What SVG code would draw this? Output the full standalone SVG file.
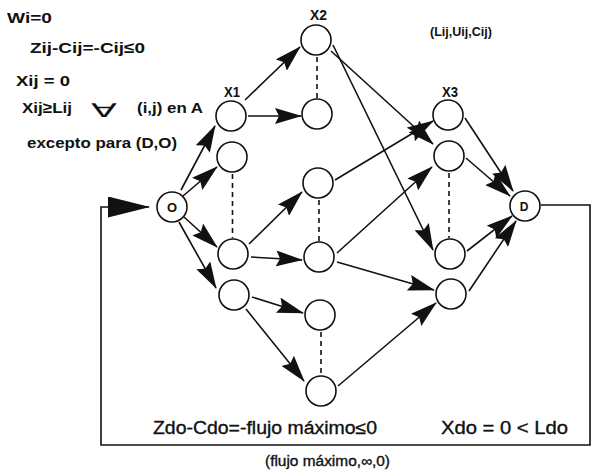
<svg xmlns="http://www.w3.org/2000/svg" width="592" height="470" viewBox="0 0 592 470">
<style>
.nd{fill:#fff;stroke:#111;stroke-width:1.6}
.e{stroke:#111;stroke-width:1.6;fill:none}
.ea{stroke:#111;stroke-width:1.6;fill:none;marker-end:url(#ah)}
.dash{stroke:#111;stroke-width:1.6;stroke-dasharray:5 4;fill:none}
.t{font-family:"Liberation Sans",Arial,Helvetica,sans-serif;fill:#111}
.b{font-weight:bold}
.s{stroke:#111;stroke-width:0.35}
</style>
<defs>
<marker id="ah" markerUnits="userSpaceOnUse" markerWidth="27" markerHeight="16" refX="26" refY="8" orient="auto" viewBox="0 0 27 16">
<path d="M0,0 L27,8 L0,16 L4,8 z" fill="#111"/>
</marker>
<marker id="big" markerUnits="userSpaceOnUse" markerWidth="42" markerHeight="21" refX="41" refY="10.5" orient="auto" viewBox="0 0 42 21">
<path d="M0,0 L42,10.5 L0,21 z" fill="#111"/>
</marker>
</defs>
<rect width="592" height="470" fill="#fff"/>

<g id="connectors">
<polyline class="e" points="541,205 590,205 590,445 101,445 101,207 149,207" marker-end="url(#big)"/>
<line class="ea" x1="181" y1="190" x2="215" y2="126"/>
<line class="ea" x1="183" y1="196" x2="217" y2="167"/>
<line class="ea" x1="184" y1="217" x2="217" y2="247"/>
<line class="ea" x1="179" y1="222" x2="216" y2="288"/>
<line class="ea" x1="245" y1="100" x2="300" y2="47"/>
<line class="ea" x1="248" y1="116" x2="301" y2="116"/>
<line class="ea" x1="249" y1="244" x2="302" y2="192"/>
<line class="ea" x1="251" y1="257" x2="302" y2="260"/>
<line class="ea" x1="252" y1="297" x2="303" y2="313"/>
<line class="ea" x1="246" y1="309" x2="304" y2="381"/>
<line class="ea" x1="331" y1="51" x2="433" y2="144"/>
<line class="ea" x1="333" y1="45" x2="433" y2="250"/>
<line class="ea" x1="335" y1="180" x2="433" y2="121"/>
<line class="ea" x1="337" y1="253" x2="432" y2="167"/>
<line class="ea" x1="337" y1="262" x2="434" y2="290"/>
<line class="ea" x1="338" y1="386" x2="436" y2="303"/>
<line class="ea" x1="465" y1="118" x2="513" y2="191"/>
<line class="ea" x1="466" y1="158" x2="510" y2="196"/>
<line class="ea" x1="467" y1="251" x2="512" y2="216"/>
<line class="ea" x1="469" y1="291" x2="516" y2="221"/>
<line class="dash" x1="232.5" y1="174" x2="232.5" y2="238"/>
<line class="dash" x1="317" y1="57" x2="317" y2="98"/>
<line class="dash" x1="319" y1="200" x2="319" y2="241"/>
<line class="dash" x1="321" y1="332" x2="321" y2="375"/>
<line class="dash" x1="449" y1="173" x2="449" y2="238"/>
</g>

<g id="node-O"><circle class="nd" cx="172" cy="207" r="15"/><text class="t b" x="172" y="212" font-size="13" text-anchor="middle">O</text></g>
<g id="node-D"><circle class="nd" cx="525" cy="206" r="15"/><text class="t b" x="524" y="211" font-size="12" text-anchor="middle">D</text></g>
<g id="node-X1a"><circle class="nd" cx="231" cy="116" r="15"/></g>
<g id="node-X1b"><circle class="nd" cx="232" cy="157" r="15"/></g>
<g id="node-X1c"><circle class="nd" cx="233" cy="254" r="15"/></g>
<g id="node-X1d"><circle class="nd" cx="234" cy="295" r="15"/></g>
<g id="node-X2a"><circle class="nd" cx="316" cy="40" r="15"/></g>
<g id="node-X2b"><circle class="nd" cx="317" cy="114" r="15"/></g>
<g id="node-X2c"><circle class="nd" cx="318" cy="183" r="15"/></g>
<g id="node-X2d"><circle class="nd" cx="319" cy="257" r="15"/></g>
<g id="node-X2e"><circle class="nd" cx="320" cy="315" r="15"/></g>
<g id="node-X2f"><circle class="nd" cx="321" cy="391" r="15"/></g>
<g id="node-X3a"><circle class="nd" cx="448" cy="115" r="15"/></g>
<g id="node-X3b"><circle class="nd" cx="449" cy="156" r="15"/></g>
<g id="node-X3c"><circle class="nd" cx="450" cy="254" r="15"/></g>
<g id="node-X3d"><circle class="nd" cx="451" cy="294" r="15"/></g>

<g id="labels">
<text class="t b" x="224" y="97" font-size="14" textLength="16" lengthAdjust="spacingAndGlyphs">X1</text>
<text class="t b" x="310" y="20" font-size="14" textLength="17" lengthAdjust="spacingAndGlyphs">X2</text>
<text class="t b" x="442" y="97" font-size="14" textLength="16" lengthAdjust="spacingAndGlyphs">X3</text>
<text class="t b" x="430" y="36" font-size="12" textLength="62" lengthAdjust="spacingAndGlyphs">(Lij,Uij,Cij)</text>
<text class="t b" x="7" y="23" font-size="15.5" textLength="45" lengthAdjust="spacingAndGlyphs">Wi=0</text>
<text class="t b" x="30" y="53" font-size="15.5" textLength="115" lengthAdjust="spacingAndGlyphs">Zij-Cij=-Cij≤0</text>
<text class="t b" x="16" y="86" font-size="15.5" textLength="54" lengthAdjust="spacingAndGlyphs">Xij = 0</text>
<text class="t b" x="22" y="113" font-size="15.5" textLength="50" lengthAdjust="spacingAndGlyphs">Xij≥Lij</text>
<text class="t" x="91" y="117" font-size="19" textLength="26" lengthAdjust="spacingAndGlyphs">∀</text>
<text class="t b" x="137" y="113" font-size="15.5" textLength="66" lengthAdjust="spacingAndGlyphs">(i,j) en A</text>
<text class="t b" x="27" y="148" font-size="15.5" textLength="150" lengthAdjust="spacingAndGlyphs">excepto para (D,O)</text>
<text class="t s" x="153" y="434" font-size="18" textLength="224" lengthAdjust="spacingAndGlyphs">Zdo-Cdo=-flujo máximo≤0</text>
<text class="t s" x="441" y="434" font-size="18" textLength="127" lengthAdjust="spacingAndGlyphs">Xdo = 0 &lt; Ldo</text>
<text class="t s" x="265" y="466" font-size="14" textLength="125" lengthAdjust="spacingAndGlyphs">(flujo máximo,∞,0)</text>
</g>
</svg>
